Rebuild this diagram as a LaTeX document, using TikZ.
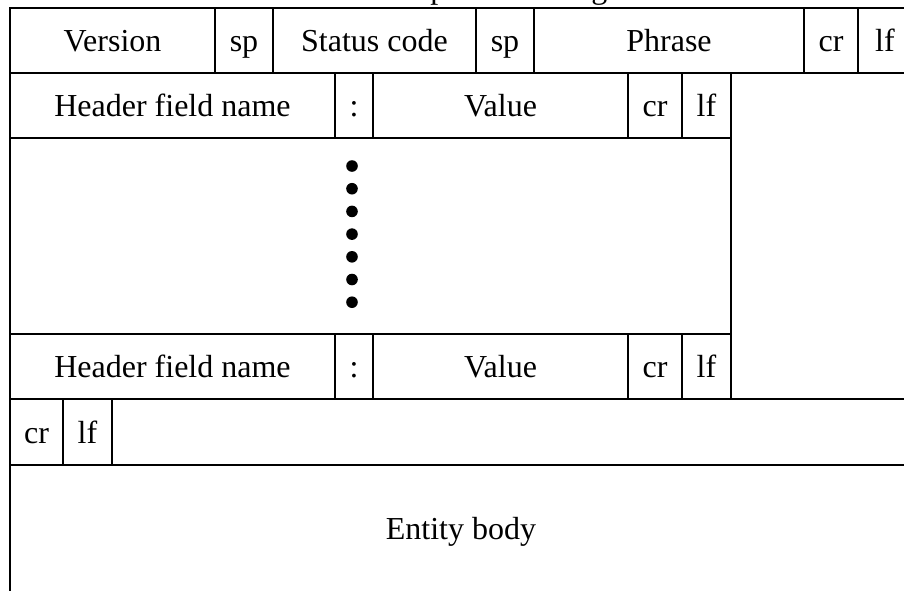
\documentclass[tikz,border=0pt]{standalone}
\usepackage{fontspec}
\setmainfont{Liberation Serif}
\usetikzlibrary{positioning}

\begin{document}
\begin{tikzpicture}[
  x=1pt, y=1pt,
  cell/.style={draw, line width=1.2pt, inner sep=0pt, outer sep=0pt,
    minimum height=65, text height=22pt, text depth=0pt,
    font=\fontsize{32}{37}\selectfont}, % one box of a line
  field/.style={cell, anchor=north west}
]
\useasboundingbox (0,0) rectangle (904,-590);
% Title
\node[anchor=base, font=\fontsize{32}{37}\selectfont] (title) at (502,2) {Response message};
% Status line
\node[field, minimum width=205] (version) at (10,-8) {Version};
\node[cell, minimum width=58, right=0pt of version] (sp1) {sp};
\node[cell, minimum width=203, right=0pt of sp1] (status) {Status code};
\node[cell, minimum width=58, right=0pt of status] (sp2) {sp};
\node[cell, minimum width=270, right=0pt of sp2] (phrase) {Phrase};
\node[cell, minimum width=54, right=0pt of phrase] (cr1) {cr};
\node[cell, minimum width=54, right=0pt of cr1] (lf1) {lf};
% First header line
\node[field, minimum width=325] (name1) at (version.south west) {Header field name};
\node[cell, minimum width=38, right=0pt of name1] (colon1) {:};
\node[cell, minimum width=255, right=0pt of colon1] (value1) {Value};
\node[cell, minimum width=54, right=0pt of value1] (cr2) {cr};
\node[cell, minimum width=49, right=0pt of cr2] (lf2) {lf};
% More header lines
\node[field, minimum width=721, minimum height=196] (more) at (name1.south west) {};
\foreach \i in {0,...,6}
  \fill ([xshift=-2, yshift=-28-22.7*\i] colon1.south) circle[radius=5.8];
% Last header line
\node[field, minimum width=325] (name2) at (more.south west) {Header field name};
\node[cell, minimum width=38, right=0pt of name2] (colon2) {:};
\node[cell, minimum width=255, right=0pt of colon2] (value2) {Value};
\node[cell, minimum width=54, right=0pt of value2] (cr3) {cr};
\node[cell, minimum width=49, right=0pt of cr3] (lf3) {lf};
% Blank line
\node[field, minimum width=902, minimum height=66] (blank) at (name2.south west) {};
\node[field, minimum width=53, minimum height=66] (cr4) at (blank.north west) {cr};
\node[cell, minimum width=49, minimum height=66, right=0pt of cr4] (lf4) {lf};
% Body
\node[field, minimum width=902, minimum height=127] (body) at (blank.south west) {Entity body};
\draw[line width=1.2pt] (lf1.south east) -- (blank.north east);
\end{tikzpicture}
\end{document}
